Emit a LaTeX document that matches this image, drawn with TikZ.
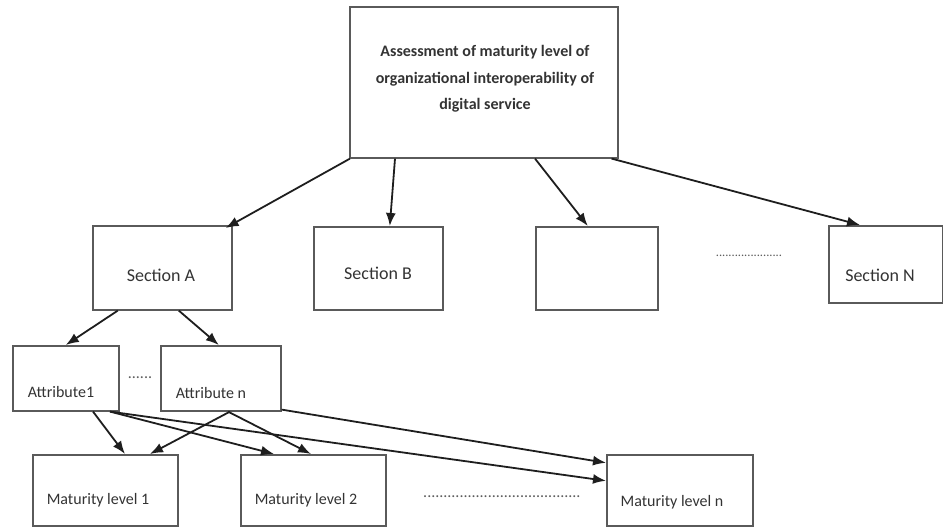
\documentclass[tikz,border=0pt]{standalone}
\usepackage{fontspec}
\setmainfont{Carlito}
\usetikzlibrary{arrows.meta}
\definecolor{boxgray}{HTML}{5A5A5A}
\definecolor{txtgray}{HTML}{333333}
\definecolor{arrowc}{HTML}{1E1E1E}
\begin{document}
\begin{tikzpicture}[x=1pt,y=-1pt,
  box/.style={draw=boxgray,line width=1.6pt,inner sep=0pt,anchor=north west},
  txt/.style={text=txtgray,inner sep=0pt,font=\fontsize{16}{19}\selectfont},
  sectxt/.style={text=txtgray,inner sep=0pt,font=\fontsize{18}{21}\selectfont},
  dots/.style={text=txtgray!80,inner sep=0pt},
  arr/.style={draw=arrowc,line width=1.8pt,-{Latex[length=13pt,width=10pt]}}]
\useasboundingbox (0,0) rectangle (943,529);
% boxes
\node[box,minimum width=268pt,minimum height=151pt] (top) at (349,6) {};
\node[box,minimum width=139pt,minimum height=84pt] (secA) at (92,225) {};
\node[box,minimum width=129pt,minimum height=83pt] (secB) at (313,226) {};
\node[box,minimum width=122pt,minimum height=83pt] (empt) at (535,226) {};
\node[box,minimum width=114pt,minimum height=77pt] (secN) at (828,225) {};
\node[box,minimum width=106pt,minimum height=65pt] (attr1) at (12,345) {};
\node[box,minimum width=120pt,minimum height=65pt] (attrn) at (160,345) {};
\node[box,minimum width=145pt,minimum height=71pt] (ml1) at (32,454) {};
\node[box,minimum width=145pt,minimum height=71pt] (ml2) at (240,454) {};
\node[box,minimum width=146pt,minimum height=71pt] (mln) at (606,454) {};
% texts
\node[text=txtgray,inner sep=0pt,align=center,font=\bfseries\fontsize{16}{26.5}\selectfont] (toptxt) at (485,79) {Assessment of maturity level of\\organizational interoperability of\\digital service};
\node[sectxt] (tA) at (161,275) {Section A};
\node[sectxt] (tB) at (378,273) {Section B};
\node[sectxt] (tN) at (880,275) {Section N};
\node[txt] (t1) at (61,392) {Attribute1};
\node[txt] (tn) at (211,393) {Attribute n};
\node[txt] (m1) at (98,500) {Maturity level 1};
\node[txt] (m2) at (306,500) {Maturity level 2};
\node[txt] (mn) at (672,502) {Maturity level n};
% dots
\node[dots,font=\fontsize{16}{19}\selectfont] (d1) at (140,378) {......};
\node[dots,font=\fontsize{12.5}{15}\selectfont] (d2) at (749,256) {.....................};
\node[dots,font=\fontsize{16}{19}\selectfont] (d3) at (502,497) {.......................................};
% arrows
\draw[arr] ([xshift=1pt]top.south west) -- ([xshift=-7pt,yshift=-3pt]secA.north east);
\draw[arr] ([xshift=46pt]top.south west) -- ([xshift=11.5pt]secB.north);
\draw[arr] ([xshift=186pt]top.south west) -- ([xshift=-9pt]empt.north);
\draw[arr] ([xshift=-7pt]top.south east) -- ([xshift=32pt]secN.north west);
\draw[arr] ([xshift=-44.5pt]secA.south) -- ([xshift=0pt]attr1.north);
\draw[arr] ([xshift=16.5pt]secA.south) -- ([xshift=-2pt]attrn.north);
\draw[arr] ([xshift=81pt]attr1.south west) -- ([xshift=93pt]ml1.north west);
\draw[arr] ([xshift=70pt]attrn.south west) -- ([xshift=118pt]ml1.north west);
\draw[arr] ([xshift=98pt]attr1.south west) -- ([xshift=34pt]ml2.north west);
\draw[arr] ([xshift=68pt]attrn.south west) -- ([xshift=71pt]ml2.north west);
\draw[arr] ([xshift=98pt]attr1.south west) -- ([yshift=9.5pt]mln.west);
\draw[arr] ([yshift=2pt]attrn.south east) -- ([yshift=27.5pt]mln.west);
\end{tikzpicture}
\end{document}
